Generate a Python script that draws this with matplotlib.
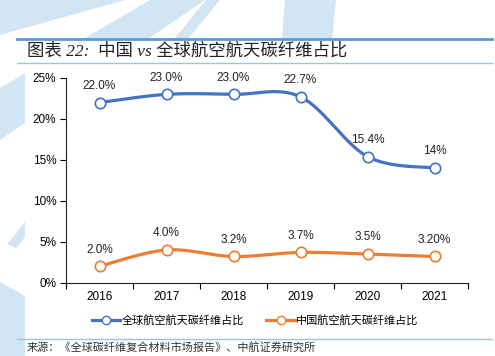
import numpy as np
import matplotlib
matplotlib.use('Agg')
import matplotlib.pyplot as plt
from matplotlib.patches import Polygon, Rectangle
from matplotlib.lines import Line2D

plt.rcParams['font.family'] = ['Liberation Sans', 'Noto Sans CJK SC']
plt.rcParams['axes.unicode_minus'] = False

years = ['2016', '2017', '2018', '2019', '2020', '2021']
global_share = [22.0, 23.0, 23.0, 22.7, 15.4, 14.0]
china_share = [2.0, 4.0, 3.2, 3.7, 3.5, 3.2]
global_labels = ['22.0%', '23.0%', '23.0%', '22.7%', '15.4%', '14%']
china_labels = ['2.0%', '4.0%', '3.2%', '3.7%', '3.5%', '3.20%']
global_name = '全球航空航天碳纤维占比'
china_name = '中国航空航天碳纤维占比'
title = '图表 22:  中国 vs 全球航空航天碳纤维占比'
source = '来源：《全球碳纤维复合材料市场报告》、中航证券研究所'

BLUE = '#4472C4'
ORANGE = '#ED7D31'
WM = '#d2e5f4'


def smooth(x, y, n=40):
    # excel-like smoothed line (catmull-rom bezier)
    x = np.asarray(x, float)
    y = np.asarray(y, float)
    px = np.concatenate([[x[0]], x, [x[-1]]])
    py = np.concatenate([[y[0]], y, [y[-1]]])
    xs, ys = [], []
    t = np.linspace(0, 1, n)
    for i in range(1, len(px) - 2):
        p0 = np.array([px[i], py[i]])
        p3 = np.array([px[i + 1], py[i + 1]])
        c1 = p0 + (np.array([px[i + 1], py[i + 1]]) - np.array([px[i - 1], py[i - 1]])) / 6
        c2 = p3 - (np.array([px[i + 2], py[i + 2]]) - np.array([px[i], py[i]])) / 6
        b = ((1 - t) ** 3)[:, None] * p0 + (3 * (1 - t) ** 2 * t)[:, None] * c1 \
            + (3 * (1 - t) * t ** 2)[:, None] * c2 + (t ** 3)[:, None] * p3
        xs.extend(b[:, 0])
        ys.extend(b[:, 1])
    return np.array(xs), np.array(ys)


fig = plt.figure(figsize=(4.95, 3.56), dpi=100)
W, H = 495.0, 356.0


def fp(pts):
    return [(px / W, 1 - py / H) for px, py in pts]


# background watermark
shapes = [
    [(0, 0), (125, 0), (0, 35)],
    [(150, 0), (205, 0), (0, 140), (0, 88)],
    [(206, 0), (220, 0), (16, 248), (7, 244)],
    [(285, 0), (336, 0), (332, 40), (282, 40)],
    [(0, 282), (25, 296), (25, 356), (0, 356)],
]
for s in shapes:
    fig.patches.append(Polygon(fp(s), closed=True, transform=fig.transFigure,
                               facecolor=WM, edgecolor='none', zorder=-3))
fig.patches.append(Rectangle((25 / W, 0), 1, 1 - 39 / H, transform=fig.transFigure,
                             facecolor='white', edgecolor='none', zorder=-2))

# header / footer rules
fig.add_artist(Line2D([17 / W, 492 / W], [1 - 39 / H] * 2, color='#5b9bd5', lw=2.0))
fig.add_artist(Line2D([17 / W, 492 / W], [1 - 63 / H] * 2, color='#9dc3e6', lw=1.0))
fig.add_artist(Line2D([17 / W, 492 / W], [1 - 339 / H] * 2, color='#9dc3e6', lw=1.0))

fig.text(27 / W, 1 - 51 / H, title, fontsize=12.5, style='italic', color='#222222',
         family=['Liberation Serif', 'Noto Sans CJK SC'], va='center', ha='left')
fig.text(27 / W, 1 - 347 / H, source, fontsize=8, color='#333333',
         family=['Noto Sans CJK SC'], va='center', ha='left')

ax = fig.add_axes([66 / W, 1 - 282.7 / H, (468 - 66) / W, (282.7 - 78) / H])
ax.patch.set_alpha(0)
ax.set_zorder(2)

x = np.arange(len(years))
sx, sy = smooth(x, global_share)
ax.plot(sx, sy, color=BLUE, lw=2.3, solid_capstyle='round', zorder=3, clip_on=False)
ax.plot(x, global_share, ls='none', marker='o', ms=7.5, mfc='white', mec=BLUE, mew=1.2, zorder=4, clip_on=False)
cx, cy = smooth(x, china_share)
ax.plot(cx, cy, color=ORANGE, lw=2.3, solid_capstyle='round', zorder=3, clip_on=False)
ax.plot(x, china_share, ls='none', marker='o', ms=7.5, mfc='white', mec=ORANGE, mew=1.2, zorder=4, clip_on=False)

for xi, v, lab in zip(x, global_share, global_labels):
    ax.annotate(lab, (xi, v), xytext=(0, 12), textcoords='offset points',
                ha='center', va='center', fontsize=8.5, color='#222222')
for xi, v, lab in zip(x, china_share, china_labels):
    ax.annotate(lab, (xi, v), xytext=(0, 12), textcoords='offset points',
                ha='center', va='center', fontsize=8.5, color='#222222')

ax.set_xlim(-0.5, len(years) - 0.5)
ax.set_ylim(0, 25)
ax.set_yticks(range(0, 26, 5))
ax.set_yticklabels([f'{v}%' for v in range(0, 26, 5)], fontsize=8.5)
ax.set_xticks(x)
ax.set_xticklabels(years, fontsize=8.5)
ax.set_xticks(np.arange(-0.5, len(years), 1), minor=True)
ax.tick_params(axis='x', which='major', length=0, pad=6)
ax.tick_params(axis='x', which='minor', length=4, width=0.8, direction='out')
ax.tick_params(axis='y', length=4, width=0.8, direction='out', pad=3)
for sp in ['top', 'right']:
    ax.spines[sp].set_visible(False)
for sp in ['left', 'bottom']:
    ax.spines[sp].set_linewidth(0.8)
    ax.spines[sp].set_color('#222222')

h1 = Line2D([], [], color=BLUE, lw=2.3, marker='o', ms=6, mfc='white', mec=BLUE)
h2 = Line2D([], [], color=ORANGE, lw=2.3, marker='o', ms=6, mfc='white', mec=ORANGE)
fig.legend([h1, h2], [global_name, china_name], loc='center', ncol=2,
           bbox_to_anchor=(255 / W, 1 - 320 / H), frameon=False, fontsize=8,
           handlelength=2.6, handletextpad=0.1, columnspacing=2.0)

fig.savefig('out.png', dpi=100)
